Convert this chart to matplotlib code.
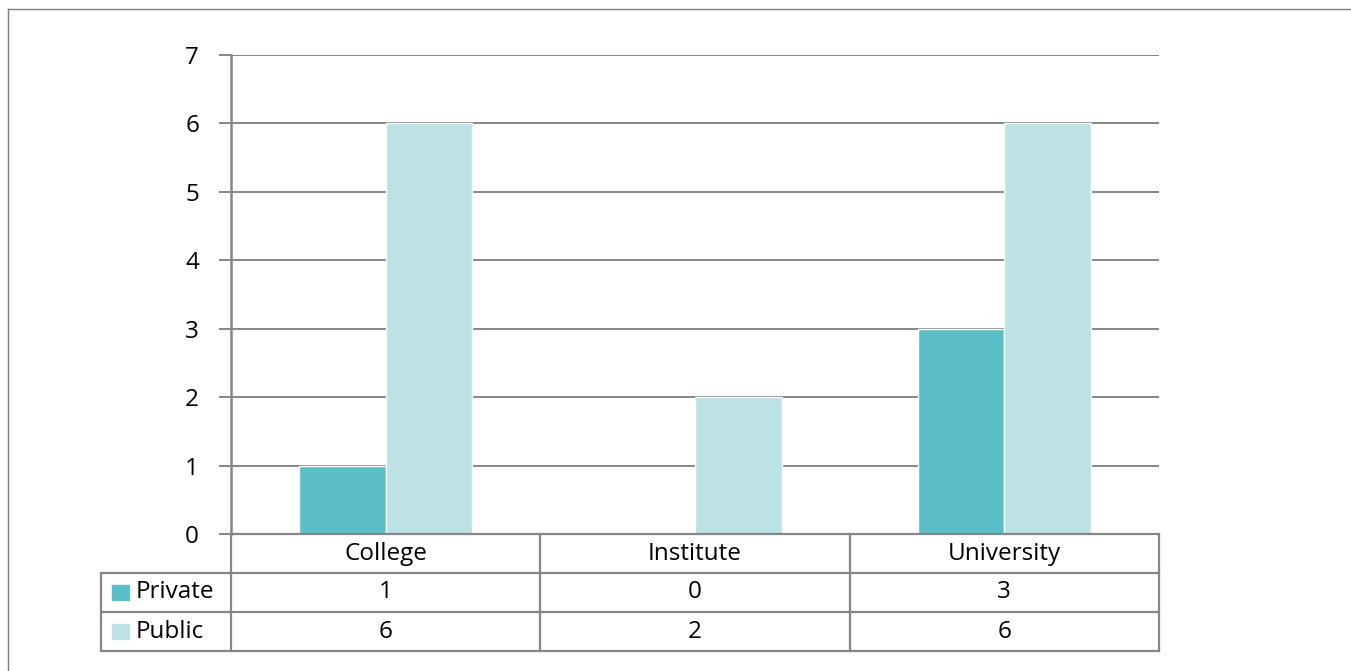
import matplotlib.pyplot as plt
from matplotlib.lines import Line2D
from matplotlib.patches import Rectangle
import numpy as np

plt.rcParams['font.family'] = ['Open Sans', 'DejaVu Sans']

# data
categories = ['College', 'Institute', 'University']
series_names = ['Private', 'Public']
private = [1, 0, 3]
public = [6, 2, 6]
colors = ['#5bbfc7', '#bce2e5']
grid_col = '#868686'
fs = 17.5

W, H = 1351, 671
fig = plt.figure(figsize=(W / 100, H / 100), dpi=100)


# helpers to place things in pixel coords (origin top-left)
def fx(px):
    return px / W


def fy(py):
    return 1 - py / H


def hline(x0, x1, y, **kw):
    fig.add_artist(Line2D([fx(x0), fx(x1)], [fy(y), fy(y)], transform=fig.transFigure, **kw))


def vline(x, y0, y1, **kw):
    fig.add_artist(Line2D([fx(x), fx(x)], [fy(y0), fy(y1)], transform=fig.transFigure, **kw))


# plot area
left, right, top, bottom = 231, 1159, 55, 534
ax = fig.add_axes([fx(left), fy(bottom), fx(right) - fx(left), fy(top) - fy(bottom)])

x = np.arange(len(categories))
w = 0.28
ax.bar(x - w / 2, private, w, color=colors[0], edgecolor='white', linewidth=1, zorder=3)
ax.bar(x + w / 2, public, w, color=colors[1], edgecolor='white', linewidth=1, zorder=3)

ax.set_xlim(-0.5, len(categories) - 0.5)
ax.set_ylim(0, 7)
ax.set_yticks(range(8))
ax.set_xticks([])
ax.yaxis.grid(True, color=grid_col, linewidth=1.4, zorder=0)
ax.tick_params(axis='y', length=9, width=1.4, color=grid_col, labelsize=fs, pad=14)
for s in ['top', 'right', 'bottom']:
    ax.spines[s].set_visible(False)
ax.spines['left'].set_color(grid_col)
ax.spines['left'].set_linewidth(1.8)

# data table below the plot
tl = dict(color=grid_col, linewidth=1.6)
col_edges = np.linspace(left, right, len(categories) + 1)
row_edges = [534, 573, 612, 651]
key_left = 101

hline(left, right, row_edges[0], **tl)
for ry in row_edges[1:]:
    hline(key_left, right, ry, **tl)
for cx in col_edges:
    vline(cx, row_edges[0], row_edges[-1], **tl)
vline(key_left, row_edges[1], row_edges[-1], **tl)

txt = dict(fontsize=fs, ha='center', va='center', transform=fig.transFigure)
for i, cat in enumerate(categories):
    cx = (col_edges[i] + col_edges[i + 1]) / 2
    fig.text(fx(cx), fy((row_edges[0] + row_edges[1]) / 2), cat, **txt)
    fig.text(fx(cx), fy((row_edges[1] + row_edges[2]) / 2), str(private[i]), **txt)
    fig.text(fx(cx), fy((row_edges[2] + row_edges[3]) / 2), str(public[i]), **txt)

for j, name in enumerate(series_names):
    cy = (row_edges[j + 1] + row_edges[j + 2]) / 2
    fig.add_artist(Rectangle((fx(112), fy(cy + 7.5)), fx(17), 15 / H,
                             transform=fig.transFigure, color=colors[j]))
    fig.text(fx(136), fy(cy), name, fontsize=fs, ha='left', va='center',
             transform=fig.transFigure)

# outer chart border
hline(8, W, 9, color='#7f7f7f', linewidth=1)
vline(8, 9, H, color='#7f7f7f', linewidth=1)

fig.savefig('out.png', dpi=100)
